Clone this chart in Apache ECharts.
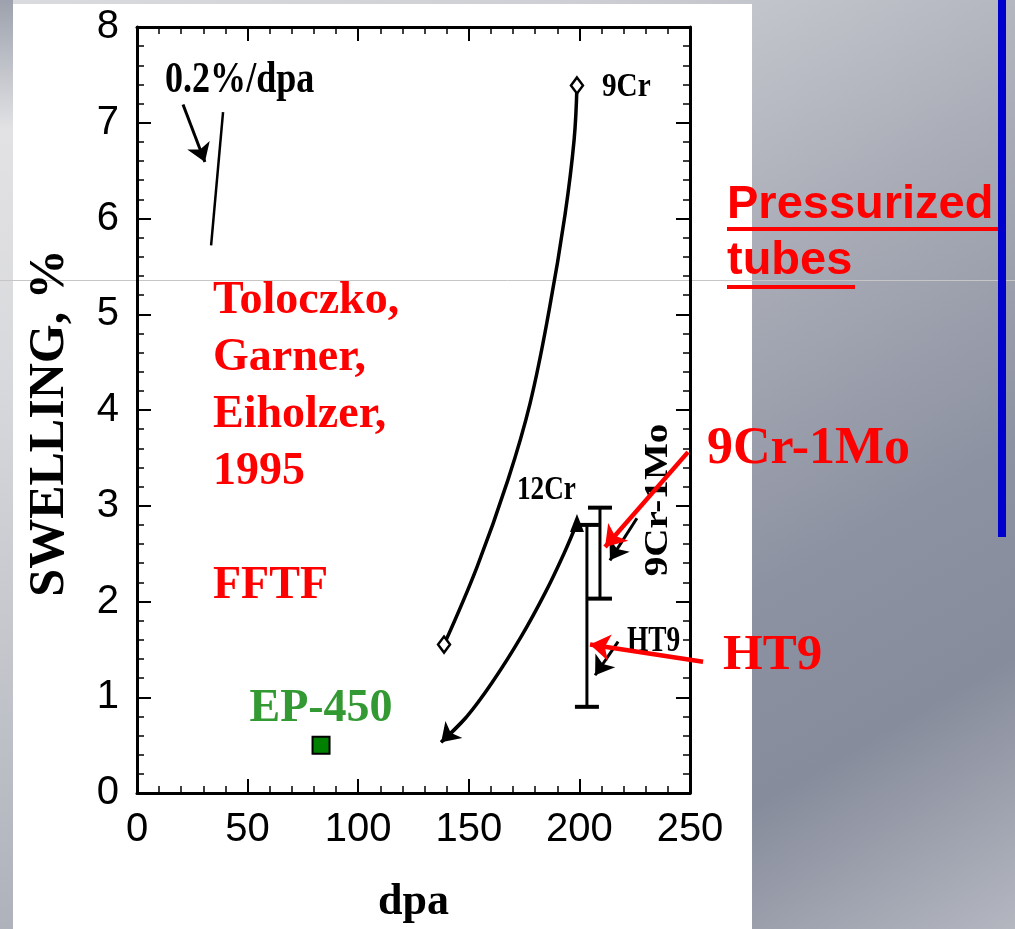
<!DOCTYPE html>
<html>
<head>
<meta charset="utf-8">
<script src="https://cdn.jsdelivr.net/npm/echarts@6/dist/echarts.min.js"></script>
<style>
  html, body { margin: 0; padding: 0; }
  #wrap {
    width: 1015px; height: 929px; position: relative; overflow: hidden;
    background: linear-gradient(150deg, #dadbde 0%, #cdcfd4 22%, #abaeb8 45%, #8d92a2 68%, #878c9c 82%, #b4b7c0 100%);
  }
  #chart { position: absolute; left: 0; top: 0; width: 1015px; height: 929px; }
</style>
</head>
<body>
<div id="wrap"><div id="chart"></div></div>
<script>
// ---- data ----
const cr9Dpa   = [138.8, 153.7, 167.7, 177.7, 186.3, 193.5, 197.6, 198.9];
const cr9Swell = [1.55, 2.36, 3.27, 4.07, 5.04, 6.04, 6.82, 7.39];

const cr12Dpa   = [198.9, 193.2, 184.5, 173.6, 161.3, 148.8, 137.5];
const cr12Swell = [2.82, 2.51, 2.09, 1.63, 1.18, 0.79, 0.53];

const barNames = ['9Cr-1Mo', 'HT9'];
const barDpa   = [209.3, 203.4];
const barLow   = [2.03, 0.90];
const barHigh  = [2.98, 2.80];

const ep450 = [83.2, 0.5];

const rateLine  = [[38.9, 7.11], [33.5, 5.72]];
const rateArrow = [[20.8, 7.19], [30.7, 6.59]];
const blackArrows = [
  [[226.0, 2.87], [213.8, 2.43]],
  [[217.5, 1.58], [207.1, 1.23]],
  [[148.8, 0.79], [137.5, 0.53]],
  rateArrow
];
const redArrows = [
  [[249.1, 3.56], [211.6, 2.57]],
  [[255.9, 1.37], [204.8, 1.55]]
];

const xTickValues = [0, 50, 100, 150, 200, 250];
const yTickValues = [0, 1, 2, 3, 4, 5, 6, 7, 8];

// ---- chart ----
const SERIF = '"Liberation Serif", "Times New Roman", serif';
const SANS = '"Liberation Sans", Arial, sans-serif';

const chart = echarts.init(document.getElementById('chart'), null, { renderer: 'canvas' });

function axisCommon(extra) {
  return Object.assign({
    type: 'value',
    axisLine: { onZero: false, lineStyle: { color: '#000', width: 3 } },
    axisTick: { inside: true, length: 14, lineStyle: { color: '#000', width: 2 } },
    minorTick: { show: true, splitNumber: 5, length: 7, lineStyle: { color: '#000', width: 1.5 } },
    splitLine: { show: false },
    minorSplitLine: { show: false }
  }, extra);
}

const xMin = xTickValues[0], xMax = xTickValues[xTickValues.length - 1];
const yMin = yTickValues[0], yMax = yTickValues[yTickValues.length - 1];

const option = {
  animation: false,
  backgroundColor: 'transparent',
  grid: { left: 137, top: 27, width: 553, height: 766, outerBoundsMode: 'none' },
  xAxis: [
    axisCommon({
      min: xMin, max: xMax, interval: 50, position: 'bottom',
      name: 'dpa', nameLocation: 'middle', nameGap: 88,
      nameTextStyle: { fontFamily: SERIF, fontWeight: 'bold', fontSize: 44, color: '#000' },
      axisLabel: { margin: 17, fontFamily: SANS, fontSize: 40, color: '#000' }
    }),
    axisCommon({
      min: xMin, max: xMax, interval: 50, position: 'top',
      axisLabel: { show: false }
    })
  ],
  yAxis: [
    axisCommon({
      min: yMin, max: yMax, interval: 1, position: 'left',
      name: 'SWELLING, %', nameLocation: 'middle', nameRotate: 90, nameGap: 62,
      nameTextStyle: { fontFamily: SERIF, fontWeight: 'bold', fontSize: 50, color: '#000', padding: [0, 26, 0, 0] },
      axisLabel: { margin: 18, fontFamily: SANS, fontSize: 40, color: '#000', padding: [0, 0, 12, 0] }
    }),
    axisCommon({
      min: yMin, max: yMax, interval: 1, position: 'right',
      axisLabel: { show: false }
    })
  ],
  graphic: {
    elements: [
      { type: 'rect', z: -20, shape: { x: 0, y: 0, width: 13, height: 929 },
        style: { fill: new echarts.graphic.LinearGradient(0, 0, 0, 1, [
          { offset: 0, color: '#9ca1ad' }, { offset: 0.14, color: '#e2e2e4' },
          { offset: 0.4, color: '#d8d9dc' }, { offset: 0.7, color: '#c4c6cc' },
          { offset: 1, color: '#afb2bb' }]) } },
      { type: 'rect', z: -20, shape: { x: 13, y: 4, width: 739, height: 925 }, style: { fill: '#ffffff' } },
      { type: 'line', z: -15, shape: { x1: 0, y1: 280.5, x2: 1015, y2: 280.5 }, style: { stroke: '#c6c6c6', lineWidth: 1 } },
      { type: 'rect', z: -10, shape: { x: 998, y: 0, width: 8, height: 537 }, style: { fill: '#0000cc' } },

      // Pressurized tubes
      { type: 'text', x: 727, y: 177, style: { text: 'Pressurized\ntubes', font: 'bold 47px ' + SANS,
        fill: '#ff0000', align: 'left', verticalAlign: 'top', lineHeight: 56 } },
      { type: 'rect', shape: { x: 727, y: 227, width: 271, height: 4 }, style: { fill: '#ff0000' } },
      { type: 'rect', shape: { x: 727, y: 285, width: 128, height: 4 }, style: { fill: '#ff0000' } },

      // reference block
      { type: 'text', x: 213, y: 273, style: { text: 'Toloczko,\nGarner,\nEiholzer,\n1995\n\nFFTF',
        font: 'bold 46px ' + SERIF, fill: '#ff0000', align: 'left', verticalAlign: 'top', lineHeight: 57 } },

      // red callouts
      { type: 'text', x: 707, y: 450, style: { text: '9Cr-1Mo', font: 'bold 52px ' + SERIF, fill: '#ff0000',
        align: 'left', verticalAlign: 'middle' } },
      { type: 'text', x: 723, y: 656, style: { text: 'HT9', font: 'bold 51px ' + SERIF, fill: '#ff0000',
        align: 'left', verticalAlign: 'middle' } },

      // black figure annotations
      { type: 'text', x: 165, y: 81, scaleX: 0.82, style: { text: '0.2%/dpa', font: 'bold 44px ' + SERIF,
        fill: '#000', align: 'left', verticalAlign: 'middle' } },
      { type: 'text', x: 602, y: 87, scaleX: 0.86, style: { text: '9Cr', font: 'bold 34px ' + SERIF,
        fill: '#000', align: 'left', verticalAlign: 'middle' } },
      { type: 'text', x: 517, y: 490, scaleX: 0.8, style: { text: '12Cr', font: 'bold 34px ' + SERIF,
        fill: '#000', align: 'left', verticalAlign: 'middle' } },
      { type: 'text', x: 627, y: 642, scaleX: 0.76, style: { text: 'HT9', font: 'bold 36px ' + SERIF,
        fill: '#000', align: 'left', verticalAlign: 'middle' } },
      { type: 'text', x: 658, y: 500, rotation: Math.PI / 2, scaleX: 1.15, style: { text: '9Cr-1Mo',
        font: 'bold 34px ' + SERIF, fill: '#000', align: 'center', verticalAlign: 'middle' } }
    ]
  },
  series: [
    {
      name: '9Cr', type: 'line', smooth: 0.4, showSymbol: false, z: 3,
      data: cr9Dpa.map((x, i) => [x, cr9Swell[i]]),
      lineStyle: { color: '#000', width: 3.5 }
    },
    {
      name: '9Cr ends', type: 'scatter', z: 5, symbol: 'diamond', symbolSize: [12, 16],
      data: [[cr9Dpa[0], cr9Swell[0]], [cr9Dpa[cr9Dpa.length - 1], cr9Swell[cr9Swell.length - 1]]],
      itemStyle: { color: '#fff', borderColor: '#000', borderWidth: 2.5, opacity: 1 }
    },
    {
      name: '12Cr', type: 'line', smooth: 0.4, showSymbol: false, z: 3,
      data: cr12Dpa.map((x, i) => [x, cr12Swell[i]]),
      lineStyle: { color: '#000', width: 3.5 }
    },
    {
      name: '12Cr point', type: 'scatter', z: 5, symbol: 'triangle', symbolSize: [14, 18],
      data: [[cr12Dpa[0], cr12Swell[0]]],
      itemStyle: { color: '#000', opacity: 1 }
    },
    {
      name: 'bars', type: 'custom', z: 4,
      data: barNames.map((n, i) => [barDpa[i], barLow[i], barHigh[i]]),
      renderItem: function (params, api) {
        const x = api.value(0), lo = api.value(1), hi = api.value(2);
        const pLo = api.coord([x, lo]), pHi = api.coord([x, hi]);
        const hw = 12;
        const st = { stroke: '#000', lineWidth: 3 };
        return { type: 'group', children: [
          { type: 'line', shape: { x1: pLo[0], y1: pLo[1], x2: pHi[0], y2: pHi[1] }, style: st },
          { type: 'line', shape: { x1: pLo[0] - hw, y1: pLo[1], x2: pLo[0] + hw, y2: pLo[1] }, style: { stroke: '#000', lineWidth: 4 } },
          { type: 'line', shape: { x1: pHi[0] - hw, y1: pHi[1], x2: pHi[0] + hw, y2: pHi[1] }, style: { stroke: '#000', lineWidth: 4 } }
        ] };
      }
    },
    {
      name: 'rate line', type: 'lines', coordinateSystem: 'cartesian2d', clip: false, z: 4,
      symbol: ['none', 'none'],
      data: [{ coords: rateLine }],
      lineStyle: { color: '#000', width: 2.5, opacity: 1 }
    },
    {
      name: 'black arrows', type: 'lines', coordinateSystem: 'cartesian2d', clip: false, z: 4,
      symbol: ['none', 'arrow'], symbolSize: 18,
      data: blackArrows.map(c => ({ coords: c })),
      lineStyle: { color: '#000', width: 3, opacity: 1 }
    },
    {
      name: 'red arrows', type: 'lines', coordinateSystem: 'cartesian2d', clip: false, z: 6,
      symbol: ['none', 'arrow'], symbolSize: 20,
      data: redArrows.map(c => ({ coords: c })),
      lineStyle: { color: '#ff0000', width: 4.5, opacity: 1 }
    },
    {
      name: 'EP-450', type: 'scatter', z: 5, symbol: 'rect', symbolSize: 17,
      data: [ep450],
      itemStyle: { color: '#008000', borderColor: '#000', borderWidth: 2, opacity: 1 },
      label: { show: true, position: 'top', distance: 4, formatter: 'EP-450', opacity: 1,
        fontFamily: SERIF, fontWeight: 'bold', fontSize: 46, color: '#339933' }
    }
  ]
};
chart.setOption(option);
</script>
</body>
</html>
